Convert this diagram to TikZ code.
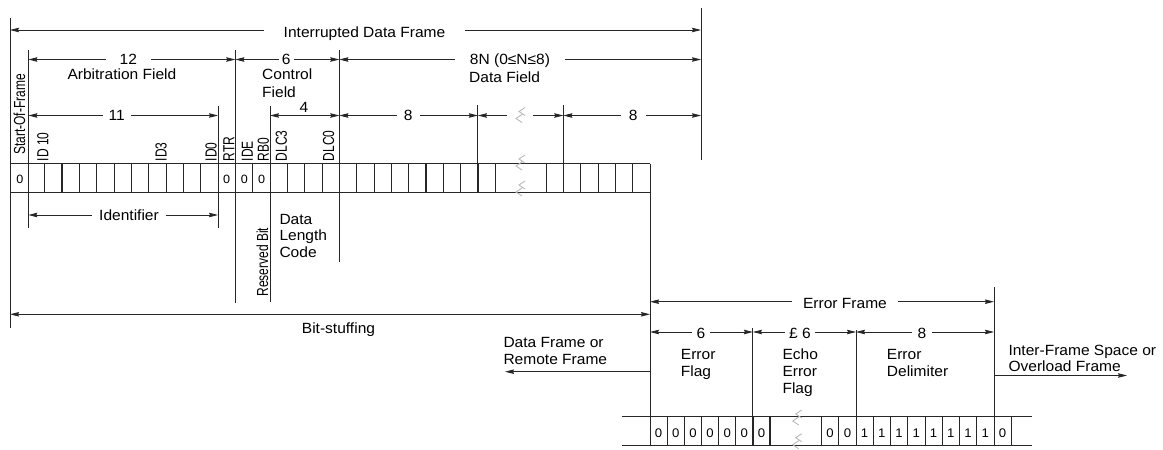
\documentclass[tikz,border=0pt]{standalone}
\usepackage{fontspec}
\setmainfont[FakeStretch=1.05]{Liberation Sans}
\newfontfamily\narrowfnt[FakeStretch=0.75]{Liberation Sans}
\usetikzlibrary{arrows.meta}
\begin{document}
\begin{tikzpicture}[x=1pt,y=-1pt,
  >={Stealth[length=9pt,width=4.5pt,inset=1pt]},
  ln/.style={line width=0.85pt,draw=black!85},
  thk/.style={line width=1.3pt,draw=black!85},
  dimln/.style={ln,<->},
  oneway/.style={ln,->},
  lbl/.style={font=\fontsize{14.8}{17}\selectfont,inner sep=0pt,anchor=base},
  lblw/.style={lbl,anchor=base west},
  gaplbl/.style={lbl,fill=white,inner xsep=#1,inner ysep=2pt},
  vlbl/.style={font=\narrowfnt\fontsize{16}{18}\selectfont,inner sep=0pt,anchor=base west,rotate=90},
  bitv/.style={font=\fontsize{12}{14}\selectfont,inner sep=0pt,anchor=base},
  bitw/.style={font=\fontsize{12.5}{14}\selectfont,inner sep=0pt,anchor=base},
  brk/.pic={\draw[gray!55,line width=0.9pt,line join=miter]
     (5,-8) -- (-1,-4) -- (5,0)
     (2,-1) -- (-4,3) -- (2,7);}
]
\useasboundingbox (0,0) rectangle (1163,450);

% ---------- long vertical lines ----------
\coordinate (L0t) at (10,18);      \coordinate (L0b) at (10,328);
\coordinate (L1t) at (28.33,50);   \coordinate (L1b) at (28.33,228);
\coordinate (L12t) at (218,106);   \coordinate (L12b) at (218,228);
\coordinate (L13t) at (235.3,50);  \coordinate (L13b) at (235.3,303);
\coordinate (L15t) at (270,106);   \coordinate (L15b) at (270,302);
\coordinate (L19t) at (339.3,50);  \coordinate (L19b) at (339.3,262);
\coordinate (L27t) at (477.9,105); \coordinate (L27b) at (477.9,192);
\coordinate (R5t) at (563.3,105);  \coordinate (R5b) at (563.3,192);
\coordinate (Rt) at (701,8);       \coordinate (Rb) at (701,160);
\coordinate (Et) at (650,163.5);   \coordinate (Eb) at (650,416.7);
\coordinate (Ft) at (752.9,328);   \coordinate (Fb) at (752.9,416.7);
\coordinate (Dt) at (856,330);     \coordinate (Db) at (856,416.7);
\coordinate (Gt) at (994,287);     \coordinate (Gb) at (994,416.7);

\foreach \p in {L0,L1,L12,L13,L15,L19,L27,R5,R,E,F,D,G} \draw[ln] (\p t) -- (\p b);

% ---------- top bit row ----------
\draw[ln] (10,163.5) -- (650,163.5);
\draw[ln] (10,192) -- (650,192);
\foreach \k in {2,4,5,6,7,9,10,14,17,18,20,21,22,23,25,26,28}
  \draw[ln] (10+\k*17.33,163.5) -- (10+\k*17.33,192);
\foreach \k in {3,8,11,16,19,24,27}
  \draw[thk] (10+\k*17.33,163.5) -- (10+\k*17.33,192);
\foreach \j in {1,3,4,6}
  \draw[ln] (650-\j*17.33,163.5) -- (650-\j*17.33,192);
\foreach \j in {2,5}
  \draw[thk] (650-\j*17.33,163.5) -- (650-\j*17.33,192);
\draw[ln] (650,192) -- (650,196);

\node[bitv] (b0) at (20,183.5) {0};
\node[bitv] (b1) at (226.7,183.5) {0};
\node[bitv] (b2) at (244.5,183.5) {0};
\node[bitv] (b3) at (261.7,183.5) {0};

\pic at (520,163) {brk};
\pic at (520,189) {brk};

% ---------- vertical field labels ----------
\node[vlbl] (sof) at (25,155) {Start-Of-Frame};
\node[vlbl] (id10) at (48.3,161.5) {ID 10};
\node[vlbl] (id3) at (166.5,161.5) {ID3};
\node[vlbl] (id0) at (216.5,161.5) {ID0};
\node[vlbl] (rtr) at (234.3,161.5) {RTR};
\node[vlbl] (ide) at (252.8,161.5) {IDE};
\node[vlbl] (rb0) at (268.8,161.5) {RB0};
\node[vlbl] (dlc3) at (286.8,161.5) {DLC3};
\node[vlbl] (dlc0) at (334,161.5) {DLC0};
\node[vlbl] (resb) at (268,296.7) {Reserved Bit};

% ---------- top dimension lines ----------
\coordinate (a1) at (10,30);      \coordinate (a2) at (701,30);
\draw[dimln] (a1) -- (a2);
\node[gaplbl=20pt] (tIDF) at (364.5,37) {Interrupted Data Frame};

\coordinate (c1) at (28.33,59.5); \coordinate (c2) at (235.3,59.5);
\coordinate (c3) at (339.3,59.5); \coordinate (c4) at (701,59.5);
\draw[dimln] (c1) -- (c2);
\draw[dimln] (c2) -- (c3);
\draw[dimln] (c3) -- (c4);
\node[gaplbl=14pt] (t12) at (128.3,64) {12};
\node[lblw] (tAF) at (67.3,79.5) {Arbitration Field};
\node[gaplbl=3pt] (t6) at (286.3,64) {6};
\node[lblw] (tCtl) at (262,79.5) {Control};
\node[lblw] (tCtl2) at (262,97) {Field};
\node[gaplbl=15pt] (t8N) at (510,64.5) {8N (0≤N≤8)};
\node[lblw] (tDF) at (469,82.3) {Data Field};

\coordinate (d1) at (28.33,115.5); \coordinate (d2) at (218,115.5);
\coordinate (d3) at (270,115.5);   \coordinate (d4) at (339.3,115.5);
\coordinate (d5) at (477.9,115.5); \coordinate (d6) at (563.3,115.5);
\coordinate (d7) at (701,115.5);
\draw[dimln] (d1) -- (d2);
\draw[dimln] (d3) -- (d4);
\draw[dimln] (d4) -- (d5);
\draw[dimln] (d5) -- (d6);
\draw[dimln] (d6) -- (d7);
\node[gaplbl=6pt] (t11) at (116.7,120.5) {11};
\node[lbl] (t4) at (304,112.5) {4};
\node[gaplbl=7pt] (t8a) at (408.3,120.5) {8};
\node[gaplbl=8pt] (t8b) at (633.3,120.5) {8};
\fill[white] (507,107) rectangle (533,124);
\pic at (520,115.5) {brk};

% ---------- lower left dimension lines ----------
\coordinate (i1) at (28.33,215); \coordinate (i2) at (218,215);
\draw[dimln] (i1) -- (i2);
\node[gaplbl=7pt] (tId) at (129,220.7) {Identifier};

\node[lblw] (tDLC1) at (279.3,224) {Data};
\node[lblw] (tDLC2) at (279.3,240.8) {Length};
\node[lblw] (tDLC3) at (279.3,257.5) {Code};

\coordinate (s1) at (10,314.3); \coordinate (s2) at (650,314.3);
\draw[dimln] (s1) -- (s2);
\node[lblw] (tBS) at (301.7,333.5) {Bit-stuffing};

\coordinate (e1) at (650,371.7); \coordinate (e2) at (505,371.7);
\draw[oneway] (e1) -- (e2);
\node[lblw] (tDFR1) at (503.3,347) {Data Frame or};
\node[lblw] (tDFR2) at (503.3,364) {Remote Frame};

% ---------- error frame ----------
\coordinate (f1) at (650,301.7); \coordinate (f2) at (994,301.7);
\draw[dimln] (f1) -- (f2);
\node[gaplbl=11pt] (tEF) at (845,308) {Error Frame};

\coordinate (g1) at (650,332);   \coordinate (g2) at (752.9,332);
\coordinate (g3) at (856,332);   \coordinate (g4) at (994,332);
\draw[dimln] (g1) -- (g2);
\draw[dimln] (g2) -- (g3);
\draw[dimln] (g3) -- (g4);
\node[gaplbl=5pt] (te6) at (701,338.3) {6};
\node[gaplbl=4pt] (te6b) at (800,338.3) {£ 6};
\node[gaplbl=6pt] (te8) at (922,338.3) {8};

\node[lblw] (tEF1) at (680.7,359.5) {Error};
\node[lblw] (tEF2) at (680.7,376.5) {Flag};
\node[lblw] (tEE1) at (782.3,359.5) {Echo};
\node[lblw] (tEE2) at (782.3,376.5) {Error};
\node[lblw] (tEE3) at (782.3,393.5) {Flag};
\node[lblw] (tED1) at (886.7,359.5) {Error};
\node[lblw] (tED2) at (886.7,376.5) {Delimiter};
\node[lblw] (tIF1) at (1008.3,355.5) {Inter-Frame Space or};
\node[lblw] (tIF2) at (1008.3,371) {Overload Frame};

\coordinate (h1) at (994,375.5); \coordinate (h2) at (1127,375.5);
\draw[oneway] (h1) -- (h2);

% ---------- bottom bit row ----------
\draw[ln] (622,416.7) -- (1032,416.7);
\draw[ln] (622,445) -- (1032,445);
\foreach \k in {0,...,5}
  \draw[ln] (650+\k*17.15,416.7) -- (650+\k*17.15,445);
\foreach \k in {6,7}
  \draw[thk] (650+\k*17.15,416.7) -- (650+\k*17.15,445);
\draw[thk] (821.5,416.7) -- (821.5,445);
\draw[ln] (838.75,416.7) -- (838.75,445);
\foreach \k in {0,1,2,3,4,6,7,8,9}
  \draw[ln] (856+\k*17.25,416.7) -- (856+\k*17.25,445);
\draw[thk] (856+5*17.25,416.7) -- (856+5*17.25,445);

\foreach \k in {0,...,6}
  \node[bitw] (z\k) at (650+\k*17.15+8.6,437) {0};
\node[bitw] (zz1) at (830.1,437) {0};
\node[bitw] (zz2) at (847.4,437) {0};
\foreach \k in {0,...,7}
  \node[bitw] (o\k) at (856+\k*17.25+8.6,437) {1};
\node[bitw] (zz3) at (856+8*17.25+8.6,437) {0};

\pic at (796.7,418) {brk};
\pic at (796.7,441.7) {brk};
\end{tikzpicture}
\end{document}
